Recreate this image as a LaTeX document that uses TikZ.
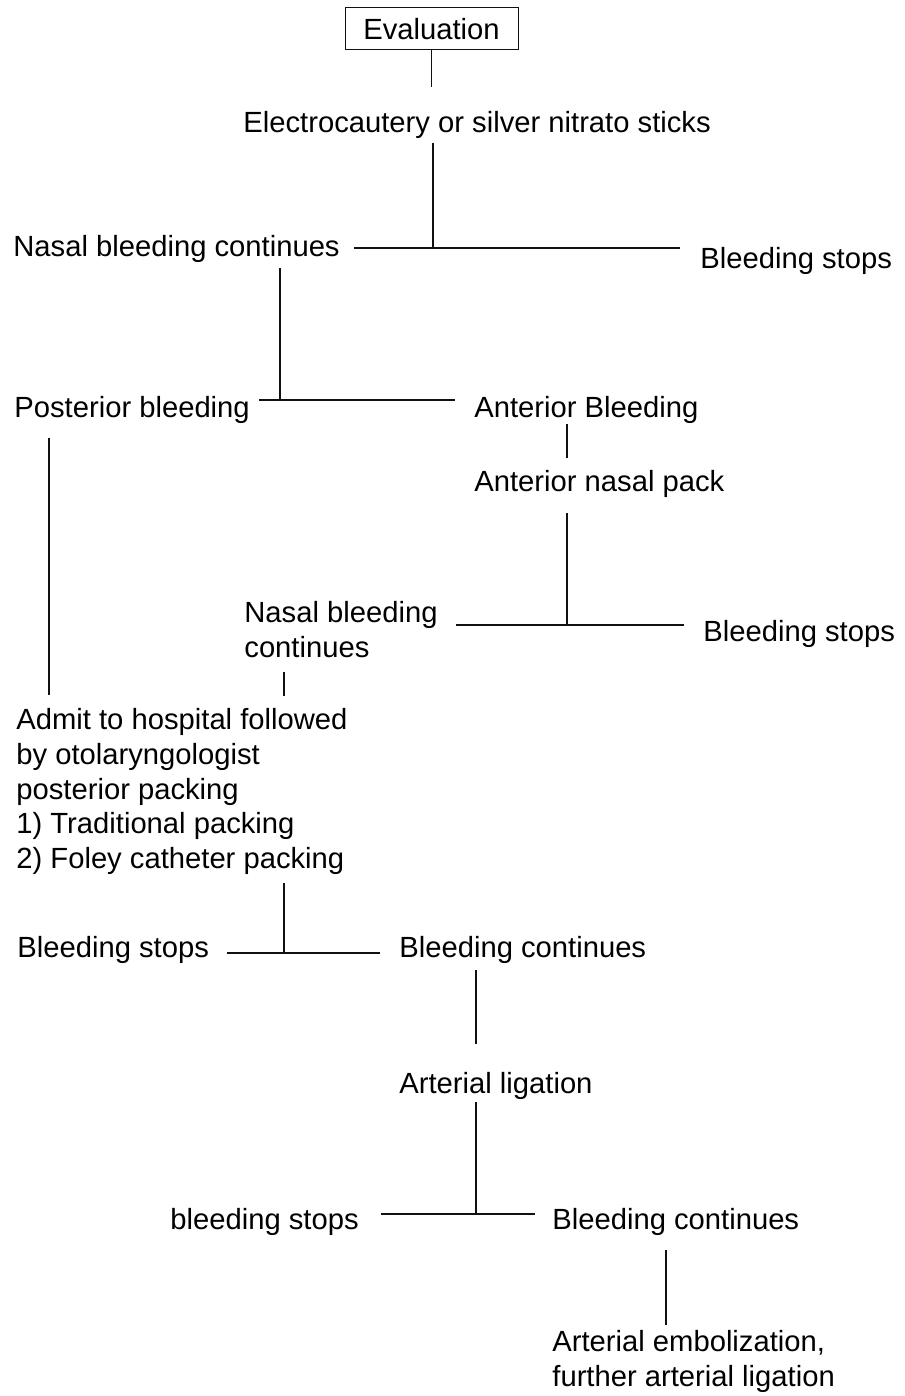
\documentclass[tikz,border=0pt]{standalone}
\usepackage{fontspec}
\usepackage{tikz}
\usetikzlibrary{calc}
\newfontfamily\chartfont{Liberation Sans}
\definecolor{inkline}{HTML}{111111}
\newcommand{\chartsize}{\chartfont\fontsize{14.6}{17.4}\selectfont}

\begin{document}
\begin{tikzpicture}[x=0.5pt,y=-0.5pt,
    lbl/.style={font=\chartsize, inner sep=0pt, anchor=west, text height=10.5pt, text depth=3pt},
    blk/.style={font=\chartsize, inner sep=0pt, anchor=north west, align=left},
    link/.style={inkline, line width=0.6pt},
    heavy/.style={inkline, line width=1.1pt}]
  \useasboundingbox (0,0) rectangle (904,1396);
  % nodes
  \node[draw=inkline, line width=0.5pt, inner sep=0pt, minimum width=86.5pt, minimum height=21pt, font=\chartsize] (eval) at (431.5,29) {Evaluation};
  \node[lbl] (elec) at (243,125) {Electrocautery or silver nitrato sticks};
  \node[lbl] (ncont1) at (13,249) {Nasal bleeding continues};
  \node[lbl] (stop1) at (700,261) {Bleeding stops};
  \node[lbl] (post) at (14,410) {Posterior bleeding};
  \node[lbl] (ant) at (474,410) {Anterior Bleeding};
  \node[lbl] (apack) at (474,484) {Anterior nasal pack};
  \node[blk] (ncont2) at (244,601) {Nasal bleeding\\continues};
  \node[lbl] (stop2) at (703,634) {Bleeding stops};
  \node[blk] (admit) at (16,708) {Admit to hospital followed\\by otolaryngologist\\posterior packing\\1) Traditional packing\\2) Foley catheter packing};
  \node[lbl] (stop3) at (17,950) {Bleeding stops};
  \node[lbl] (bcont1) at (399,950) {Bleeding continues};
  \node[lbl] (lig) at (399,1086) {Arterial ligation};
  \node[lbl] (stop4) at (170,1222) {bleeding stops};
  \node[lbl] (bcont2) at (552,1222) {Bleeding continues};
  \node[blk] (emb) at (552,1330) {Arterial embolization,\\further arterial ligation};
  % junctions
  \coordinate (j1) at (433,248);
  \coordinate (j2) at (280,400);
  \coordinate (j3) at (567,625);
  \coordinate (j4) at (284,953);
  \coordinate (j5) at (476,1214);
  % connectors
  \draw[link] (eval.south) -- ([yshift=12pt]eval.south |- elec.north);
  \draw[heavy] ([yshift=-2pt]j1 |- elec.south) -- (j1);
  \draw[link] ([xshift=7pt]ncont1.east |- j1) -- ([xshift=-10pt]stop1.west |- j1);
  \draw[link] ([yshift=-2.5pt]j2 |- ncont1.south) -- (j2);
  \draw[link] ([xshift=4.5pt]post.east |- j2) -- ([xshift=-9.5pt]ant.west |- j2);
  \draw[heavy] (j3 |- ant.south) -- ([yshift=6pt]j3 |- apack.north);
  \draw[link] ([yshift=-7.5pt]j3 |- apack.south) -- (j3);
  \draw[link] ([xshift=9pt]ncont2.east |- j3) -- ([xshift=-9.5pt]stop2.west |- j3);
  \draw[link] ([xshift=17.5pt,yshift=-7pt]post.south west) -- ([xshift=16.5pt,yshift=6.5pt]admit.north west);
  \draw[link] ([yshift=-7pt]j4 |- ncont2.south) -- ([yshift=6pt]j4 |- admit.north);
  \draw[link] ([yshift=-4pt]j4 |- admit.south) -- (j4);
  \draw[link] ([xshift=9pt]stop3.east |- j4) -- ([xshift=-9.5pt]bcont1.west |- j4);
  \draw[heavy] ([yshift=-3pt]j5 |- bcont1.south) -- ([yshift=14pt]j5 |- lig.north);
  \draw[link] ([yshift=-1pt]j5 |- lig.south) -- (j5);
  \draw[link] ([xshift=11pt]stop4.east |- j5) -- ([xshift=-8.5pt]bcont2.west |- j5);
  \draw[link] ([xshift=57pt,yshift=-7pt]bcont2.south west) -- ([xshift=57pt,yshift=2.5pt]emb.north west);
\end{tikzpicture}
\end{document}
